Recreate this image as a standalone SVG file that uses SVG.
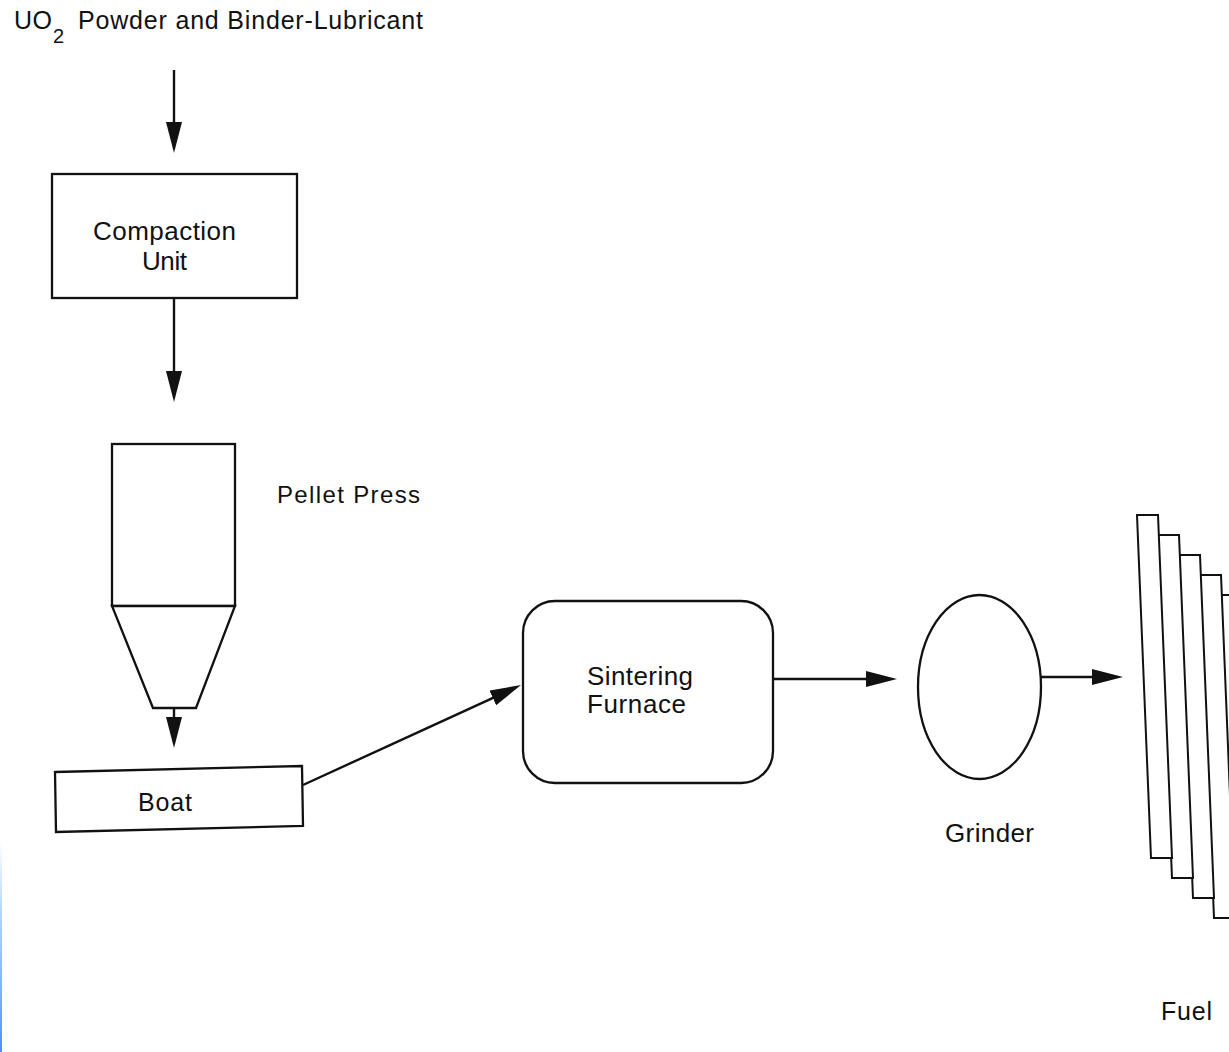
<svg xmlns="http://www.w3.org/2000/svg" width="1229" height="1052" viewBox="0 0 1229 1052">
  <style>
    .lbl { font-family: "Liberation Sans", Arial, Helvetica, sans-serif; fill: #111; }
    .box { fill: #fff; stroke: #111; stroke-width: 2.3; }
    .plate { fill: #fff; stroke: #111; stroke-width: 2; stroke-linejoin: miter; }
    .flow { fill: none; stroke: #111; stroke-width: 2.4; }
  </style>
  <defs>
    <marker id="head" markerUnits="userSpaceOnUse" markerWidth="34" markerHeight="18" refX="21" refY="8" orient="auto">
      <path d="M0,0 L31,8 L0,16 z" fill="#111"/>
    </marker>
    <linearGradient id="edgeTint" x1="0" y1="0" x2="0" y2="1">
      <stop offset="0" stop-color="#6aa8ff" stop-opacity="0"/>
      <stop offset="0.35" stop-color="#6aa8ff" stop-opacity="0.5"/>
      <stop offset="1" stop-color="#4a90ff" stop-opacity="1"/>
    </linearGradient>
  </defs>

  <rect x="0" y="0" width="1229" height="1052" fill="#fff"/>
  <rect x="0" y="840" width="2" height="212" fill="url(#edgeTint)"/>

  <!-- feed material -->
  <g id="feed">
    <text class="lbl" x="14" y="29" font-size="25" textLength="38" lengthAdjust="spacing">UO</text>
    <text class="lbl" x="53" y="43" font-size="20">2</text>
    <text class="lbl" x="78" y="29" font-size="25" textLength="345" lengthAdjust="spacing">Powder and Binder-Lubricant</text>
  </g>

  <g id="compaction-unit">
    <rect class="box" x="52" y="174" width="245" height="124"/>
    <text class="lbl" x="93" y="240" font-size="26" textLength="143" lengthAdjust="spacing">Compaction</text>
    <text class="lbl" x="142" y="270" font-size="26" textLength="45" lengthAdjust="spacing">Unit</text>
  </g>

  <g id="pellet-press">
    <rect class="box" x="112" y="444" width="123" height="162"/>
    <polygon class="box" points="112,606 235,606 196,708 153,708"/>
    <text class="lbl" x="277" y="503" font-size="24" textLength="143" lengthAdjust="spacing">Pellet Press</text>
  </g>

  <g id="boat">
    <polygon class="box" points="55,772 302,766 303,826 56,832"/>
    <text class="lbl" x="138" y="811" font-size="25" textLength="54" lengthAdjust="spacing">Boat</text>
  </g>

  <g id="sintering-furnace">
    <rect class="box" x="523" y="601" width="250" height="182" rx="32" ry="32"/>
    <text class="lbl" x="587" y="685" font-size="26" textLength="106" lengthAdjust="spacing">Sintering</text>
    <text class="lbl" x="587" y="713" font-size="26" textLength="99" lengthAdjust="spacing">Furnace</text>
  </g>

  <g id="grinder">
    <ellipse class="box" cx="979.5" cy="687" rx="61.5" ry="92"/>
    <text class="lbl" x="945" y="842" font-size="26" textLength="89" lengthAdjust="spacing">Grinder</text>
  </g>

  <g id="fuel">
    <polygon class="plate" points="1221,595 1242,595 1256,938 1235,938"/>
    <polygon class="plate" points="1200,575 1221,575 1235,918 1214,918"/>
    <polygon class="plate" points="1179,555 1200,555 1214,898 1193,898"/>
    <polygon class="plate" points="1158,535 1179,535 1193,878 1172,878"/>
    <polygon class="plate" points="1137,515 1158,515 1172,858 1151,858"/>
    <text class="lbl" x="1161" y="1020" font-size="25" textLength="51" lengthAdjust="spacing">Fuel</text>
  </g>

  <!-- material flow -->
  <g id="connectors">
    <line class="flow" x1="174" y1="70" x2="174" y2="143" marker-end="url(#head)"/>
    <line class="flow" x1="174" y1="298" x2="174" y2="392" marker-end="url(#head)"/>
    <line class="flow" x1="174" y1="708" x2="174" y2="738" marker-end="url(#head)"/>
    <line class="flow" x1="303" y1="785" x2="511.9" y2="689.2" stroke-width="3.2" marker-end="url(#head)"/>
    <line class="flow" x1="773" y1="679" x2="887" y2="679" marker-end="url(#head)"/>
    <line class="flow" x1="1041" y1="677" x2="1113" y2="677" marker-end="url(#head)"/>
  </g>
</svg>
